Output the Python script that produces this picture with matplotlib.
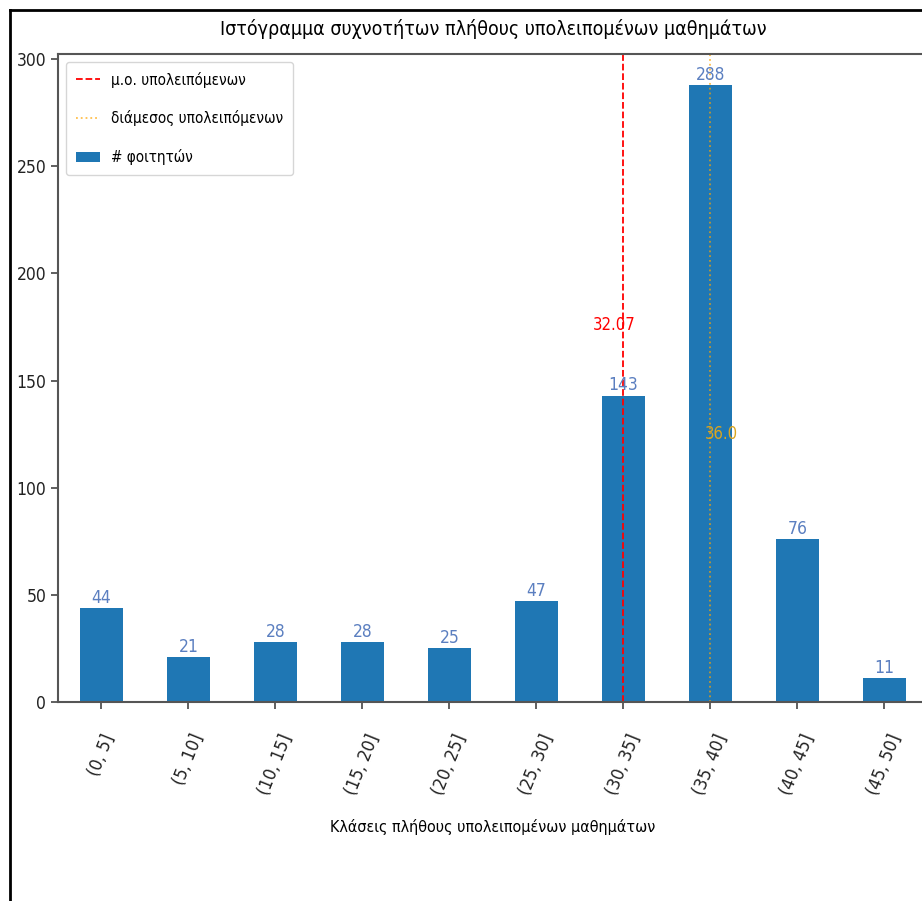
import numpy as np
import matplotlib
matplotlib.use('Agg')
import matplotlib.pyplot as plt
from matplotlib.lines import Line2D

# |~~~~~~~~~~| Daten |~~~~~~~~~~|
klassen = ['(0, 5]', '(5, 10]', '(10, 15]', '(15, 20]', '(20, 25]',
           '(25, 30]', '(30, 35]', '(35, 40]', '(40, 45]', '(45, 50]']
grenzen = [0, 5, 10, 15, 20, 25, 30, 35, 40, 45, 50]
foitites = [44, 21, 28, 28, 25, 47, 143, 288, 76, 11]
mesos_oros = 32.07
diamesos = 36.0

plt.rcParams['font.family'] = ['DejaVu Sans']
plt.rcParams['font.stretch'] = 'condensed'

fig = plt.figure(figsize=(9.22, 9.01), dpi=100)
ax = fig.add_axes([0.0629, 0.2209, 0.9436, 0.7192])

x = np.arange(len(klassen))
bars = ax.bar(x, foitites, width=0.5, color='#1f77b4', label='# φοιτητών')

# Klasse in der Mittelwert / Median liegen
pos_mo = np.searchsorted(grenzen, mesos_oros) - 1
pos_dm = np.searchsorted(grenzen, diamesos) - 1

ax.axvline(pos_mo, color='red', linestyle='--', linewidth=1.3, label='μ.ο. υπολειπόμενων')
ax.axvline(pos_dm, color='orange', linestyle=':', linewidth=1.3, alpha=0.7,
           label='διάμεσος υπολειπόμενων')

ax.text(pos_mo - 0.11, 176, str(mesos_oros), color='red', fontsize=12,
        ha='center', va='center')
ax.text(pos_dm + 0.13, 125, str(diamesos), color='goldenrod', fontsize=12,
        ha='center', va='center')

for b, v in zip(bars, foitites):
    ax.text(b.get_x() + b.get_width() / 2, v + 0.5, str(v), color='#5b7fc0',
            fontsize=12.5, ha='center', va='bottom')

ax.set_xlim(-0.5, len(klassen) - 0.5)
ax.set_ylim(0, max(foitites) * 1.05)
ax.set_yticks(range(0, 301, 50))
ax.set_xticks(x)
ax.set_xticklabels(klassen, rotation=68, fontsize=13)
ax.tick_params(axis='y', labelsize=12.5)
ax.tick_params(axis='x', pad=16)
ax.tick_params(axis='both', colors='#444', labelcolor='#222', length=5, width=1.2)
for s in ax.spines.values():
    s.set_color('#555')
    s.set_linewidth(1.5)

ax.set_title('Ιστόγραμμα συχνοτήτων πλήθους υπολειπομένων μαθημάτων', fontsize=14,
             pad=14)
ax.set_xlabel('Κλάσεις πλήθους υπολειπομένων μαθημάτων', fontsize=11.5, labelpad=16)

ax.legend(loc='upper left', prop={'stretch': 'condensed', 'size': 11},
          labelspacing=1.5, handlelength=1.6, handletextpad=0.7, borderpad=0.65)

# schwarzer Rahmen oben und links
fig.add_artist(Line2D([0.011, 0.011], [0.0, 0.989], color='black', linewidth=2,
                      transform=fig.transFigure))
fig.add_artist(Line2D([0.011, 1.0], [0.989, 0.989], color='black', linewidth=2,
                      transform=fig.transFigure))

fig.savefig('out.png', dpi=100)
